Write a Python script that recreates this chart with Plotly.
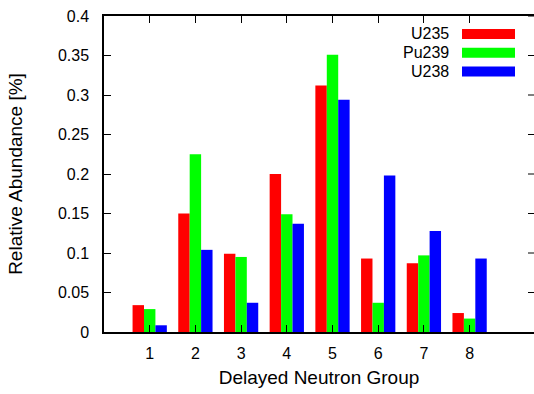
import plotly.graph_objects as go

groups = [1, 2, 3, 4, 5, 6, 7, 8]
u235 = [0.034, 0.150, 0.099, 0.200, 0.312, 0.093, 0.087, 0.024]
pu239 = [0.029, 0.225, 0.095, 0.149, 0.351, 0.037, 0.097, 0.017]
u238 = [0.0085, 0.104, 0.037, 0.137, 0.294, 0.198, 0.128, 0.093]
series_names = ["U235", "Pu239", "U238"]
series_colors = ["#FF0000", "#00FF00", "#0000FF"]
y_ticks = [0, 0.05, 0.1, 0.15, 0.2, 0.25, 0.3, 0.35, 0.4]
y_ticktext = ["0", "0.05", "0.1", "0.15", "0.2", "0.25", "0.3", "0.35", "0.4"]

FONT = "Liberation Sans, Arial, Helvetica, sans-serif"
fig = go.Figure()
for name, vals, col in zip(series_names, [u235, pu239, u238], series_colors):
    fig.add_trace(go.Bar(x=groups, y=vals, name=name, marker=dict(color=col, line=dict(width=0)),
                         showlegend=False))

W, H = 534, 394
L, R, T, B = 104, 0, 16, 62
PLOT_W = W - L - R
PX_PER_UNIT = 45.7
fig.update_layout(
    width=W, height=H,
    margin=dict(l=L, r=R, t=T, b=B, autoexpand=False),
    paper_bgcolor="white", plot_bgcolor="white",
    barmode="group", bargap=0.25, bargroupgap=0,
    font=dict(family=FONT, size=16, color="black"),
)
fig.update_xaxes(range=[0, PLOT_W / PX_PER_UNIT], tickvals=groups, ticktext=[str(g) for g in groups],
                 ticks="inside", ticklen=7, tickwidth=1, tickcolor="black",
                 showline=True, linecolor="black", linewidth=1.5, mirror="ticks",
                 showgrid=False, zeroline=False, automargin=False,
                 title=dict(text="Delayed Neutron Group", standoff=10),
                 ticklabelstandoff=6)
fig.update_yaxes(range=[0, 0.4], tickvals=y_ticks, ticktext=y_ticktext,
                 ticks="inside", ticklen=7, tickwidth=1, tickcolor="black",
                 showline=True, linecolor="black", linewidth=1.5, mirror=False,
                 showgrid=False, zeroline=False, automargin=False,
                 title=dict(text="Relative Abundance [%]", standoff=30),
                 ticklabelstandoff=10)

# right-hand ticks of the frame, whose border lies just past the picture edge
for yt in y_ticks[1:]:
    fig.add_shape(type="line", xref="paper", yref="y", x0=(PLOT_W - 6) / PLOT_W, x1=1.02,
                  y0=yt, y1=yt, line=dict(color="black", width=1))

# legend drawn as text-left / sample-right like the reference
plot_h = H - T - B
y0 = (H - B - 34) / plot_h
pitch = 18.7 / plot_h
for i, (name, col) in enumerate(zip(series_names, series_colors)):
    yc = y0 - i * pitch
    fig.add_annotation(x=(451 - L) / PLOT_W, y=yc, xref="paper", yref="paper", text=name,
                       showarrow=False, xanchor="right", yanchor="middle",
                       font=dict(family=FONT, size=16, color="black"))
    fig.add_shape(type="rect", xref="paper", yref="paper",
                  x0=(462 - L) / PLOT_W, x1=(515 - L) / PLOT_W,
                  y0=yc - 5 / plot_h, y1=yc + 5 / plot_h,
                  fillcolor=col, line=dict(width=0))

fig.write_html("out.html")
